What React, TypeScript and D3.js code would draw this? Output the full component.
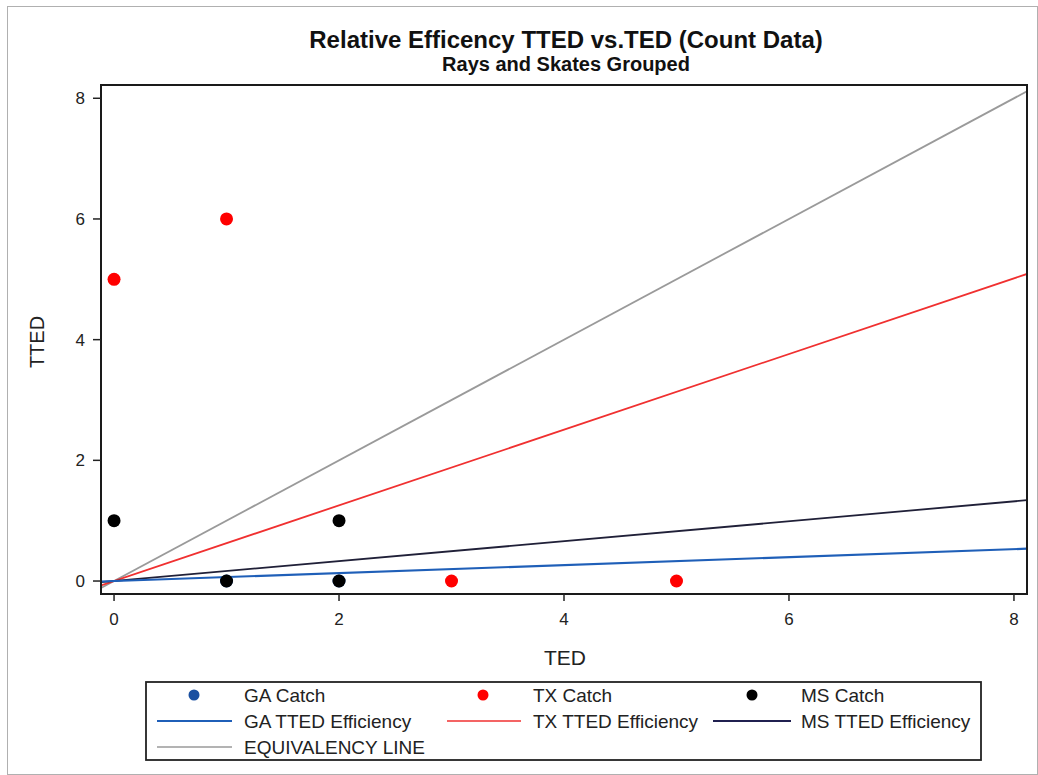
import React from "react";
import * as d3 from "d3";

const xTicks = [0, 2, 4, 6, 8];
const yTicks = [0, 2, 4, 6, 8];

const gaPoints: [number, number][] = [[1, 0], [2, 0]];
const txPoints: [number, number][] = [[0, 5], [1, 6], [3, 0], [5, 0]];
const msPoints: [number, number][] = [[0, 1], [1, 0], [2, 1], [2, 0]];

const gaSlope = 0.066;
const txSlope = 0.627;
const msSlope = 0.165;
const eqSlope = 1.0;

const W = 1038;
const H = 775;
const L = 101, R = 1027, T = 85, B = 594;

export default function App() {
  const x = d3.scaleLinear().domain([-0.116, 8.116]).range([L, R]);
  const y = d3.scaleLinear().domain([-0.215, 8.22]).range([B, T]);
  const x0 = -0.116, x1 = 8.116;
  const line = d3.line<[number, number]>().x(d => x(d[0])).y(d => y(d[1]));
  const lines = [
    { slope: eqSlope, color: "#9a9a9a", w: 1.8 },
    { slope: txSlope, color: "#f03030", w: 1.8 },
    { slope: msSlope, color: "#202038", w: 1.8 },
    { slope: gaSlope, color: "#1f5fb8", w: 2.2 },
  ];
  const font = "'Liberation Sans', Arial, sans-serif";
  const rows = [695, 721, 747];
  const lfs = 19;
  return (
    <svg width={W} height={H} style={{ position: "absolute", left: 0, top: 0, background: "#fff" }} fontFamily={font}>
      <rect x={7.5} y={6.5} width={1030} height={768} fill="none" stroke="#b0b0b0" strokeWidth={1} />
      <text x={566} y={48} textAnchor="middle" fontSize={24} fontWeight="bold" fill="#111">Relative Efficency TTED vs.TED (Count Data)</text>
      <text x={566} y={71} textAnchor="middle" fontSize={20} fontWeight="bold" fill="#111">Rays and Skates Grouped</text>
      <defs>
        <clipPath id="plotclip"><rect x={L} y={T} width={R - L} height={B - T} /></clipPath>
      </defs>
      <g clipPath="url(#plotclip)">
        {lines.map((l, i) => (
          <path key={i} d={line([[x0, l.slope * x0], [x1, l.slope * x1]]) || ""} stroke={l.color} strokeWidth={l.w} fill="none" />
        ))}
        {gaPoints.map((p, i) => <circle key={"g" + i} cx={x(p[0])} cy={y(p[1])} r={6.5} fill="#1a4fa0" />)}
        {txPoints.map((p, i) => <circle key={"t" + i} cx={x(p[0])} cy={y(p[1])} r={6.5} fill="#ff0000" />)}
        {msPoints.map((p, i) => <circle key={"m" + i} cx={x(p[0])} cy={y(p[1])} r={6.5} fill="#000" />)}
      </g>
      <rect x={L} y={T} width={R - L} height={B - T} fill="none" stroke="#1a1a1a" strokeWidth={2} />
      {yTicks.map(t => (
        <g key={"y" + t}>
          <line x1={L - 8} x2={L} y1={y(t)} y2={y(t)} stroke="#222" strokeWidth={1.5} />
          <text x={L - 16} y={y(t) + 6} textAnchor="end" fontSize={17} fill="#222">{t}</text>
        </g>
      ))}
      {xTicks.map(t => (
        <g key={"x" + t}>
          <line x1={x(t)} x2={x(t)} y1={B} y2={B + 7} stroke="#222" strokeWidth={1.5} />
          <text x={x(t)} y={B + 31} textAnchor="middle" fontSize={17} fill="#222">{t}</text>
        </g>
      ))}
      <text x={565} y={665} textAnchor="middle" fontSize={21} fill="#222">TED</text>
      <text transform={`translate(44,342) rotate(-90)`} textAnchor="middle" fontSize={20} fill="#222">TTED</text>
      <rect x={146} y={682} width={835} height={78} fill="none" stroke="#222" strokeWidth={1.8} />
      <circle cx={194} cy={rows[0]} r={5.5} fill="#1a4fa0" />
      <text x={244} y={rows[0] + 7} fontSize={lfs} fill="#222">GA Catch</text>
      <circle cx={483} cy={rows[0]} r={5.5} fill="#ff0000" />
      <text x={533} y={rows[0] + 7} fontSize={lfs} fill="#222">TX Catch</text>
      <circle cx={752} cy={rows[0]} r={5.5} fill="#000" />
      <text x={801} y={rows[0] + 7} fontSize={lfs} fill="#222">MS Catch</text>
      <line x1={157} x2={232} y1={rows[1]} y2={rows[1]} stroke="#1f5fb8" strokeWidth={2} />
      <text x={244} y={rows[1] + 7} fontSize={lfs} fill="#222">GA TTED Efficiency</text>
      <line x1={447} x2={521} y1={rows[1]} y2={rows[1]} stroke="#f03030" strokeWidth={1.5} />
      <text x={533} y={rows[1] + 7} fontSize={lfs} fill="#222">TX TTED Efficiency</text>
      <line x1={713} x2={791} y1={rows[1]} y2={rows[1]} stroke="#202050" strokeWidth={2} />
      <text x={801} y={rows[1] + 7} fontSize={lfs} fill="#222">MS TTED Efficiency</text>
      <line x1={157} x2={232} y1={rows[2]} y2={rows[2]} stroke="#9a9a9a" strokeWidth={1.5} />
      <text x={244} y={rows[2] + 7} fontSize={lfs} fill="#222">EQUIVALENCY LINE</text>
    </svg>
  );
}
